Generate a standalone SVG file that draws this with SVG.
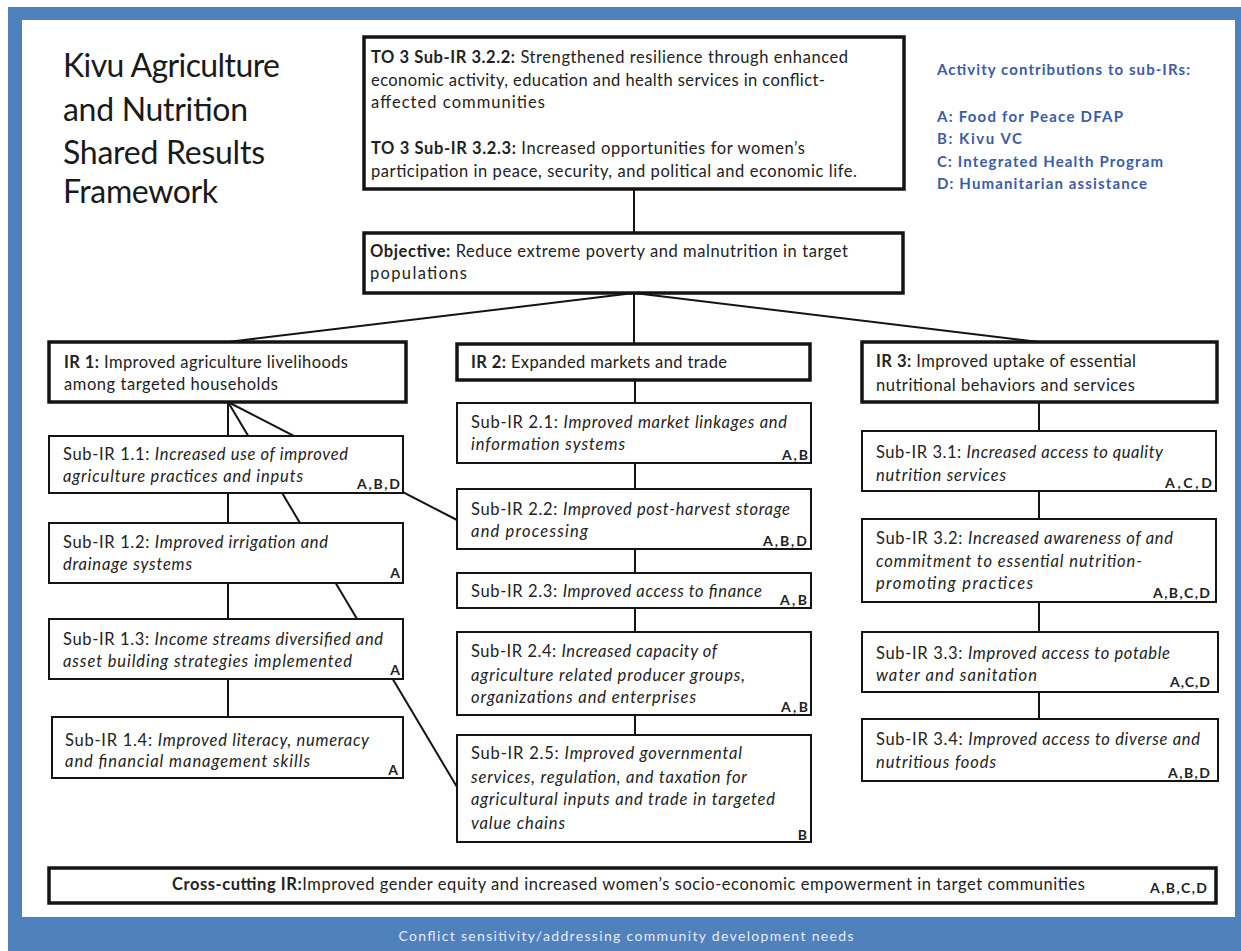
<svg xmlns="http://www.w3.org/2000/svg" width="1241" height="951" viewBox="0 0 1241 951">
<style>
.box{fill:#fff;stroke:#141414;stroke-width:2}
.thick{stroke-width:3.5}
.t{font-family:Lato,'Liberation Sans',sans-serif;font-size:16.5px;fill:#222}
.i{font-style:italic}
.b{font-weight:bold}
.lbl{font-family:Lato,'Liberation Sans',sans-serif;font-size:14px;font-weight:bold;fill:#222;text-anchor:end}
.title{font-family:Lato,'Liberation Sans',sans-serif;font-size:32px;fill:#1a1a1a}
.leg{font-family:Lato,'Liberation Sans',sans-serif;font-size:15px;font-weight:bold;fill:#3a5da8}
.conn line{stroke:#141414;stroke-width:2}
</style>
<rect x="0" y="0" width="1241" height="951" fill="#fff"/>
<g id="frame">
<rect x="8" y="7" width="1233" height="944" fill="#4f81bd"/>
<rect x="22" y="20" width="1213" height="897" fill="#fff"/>
<text x="626" y="941" text-anchor="middle" textLength="455" font-family="Lato,'Liberation Sans',sans-serif" font-size="14" fill="#e6edf7">Conflict sensitivity/addressing community development needs</text>
</g>
<g id="title">
<text class="title" x="63" y="77" textLength="217">Kivu Agriculture</text>
<text class="title" x="63" y="121" textLength="185">and Nutrition</text>
<text class="title" x="63" y="164" textLength="202">Shared Results</text>
<text class="title" x="63" y="203" textLength="155">Framework</text>
</g>
<g id="legend">
<text class="leg" x="937" y="75" textLength="253" fill="#47609a">Activity contributions to sub-IRs:</text>
<text class="leg" x="937" y="122" textLength="186">A: Food for Peace  DFAP</text>
<text class="leg" x="937" y="144" textLength="85">B: Kivu VC</text>
<text class="leg" x="937" y="167" textLength="226">C: Integrated Health Program</text>
<text class="leg" x="937" y="189" textLength="210">D: Humanitarian assistance</text>
</g>
<g id="connectors" class="conn">
<line x1="634" y1="189" x2="634" y2="233"/>
<line x1="634" y1="293" x2="228" y2="342"/>
<line x1="634" y1="293" x2="634" y2="344"/>
<line x1="634" y1="293" x2="1039" y2="342"/>
<line x1="228" y1="402" x2="228" y2="436"/>
<line x1="228" y1="493" x2="228" y2="523"/>
<line x1="228" y1="583" x2="228" y2="619"/>
<line x1="228" y1="679" x2="228" y2="717"/>
<line x1="228" y1="402" x2="457" y2="520"/>
<line x1="228" y1="402" x2="457" y2="787"/>
<line x1="635" y1="380" x2="635" y2="403"/>
<line x1="635" y1="463" x2="635" y2="489"/>
<line x1="635" y1="549" x2="635" y2="573"/>
<line x1="635" y1="608" x2="635" y2="632"/>
<line x1="635" y1="715" x2="635" y2="735"/>
<line x1="1039" y1="402" x2="1039" y2="431"/>
<line x1="1039" y1="491" x2="1039" y2="519"/>
<line x1="1039" y1="602" x2="1039" y2="632"/>
<line x1="1039" y1="692" x2="1039" y2="719"/>
</g>
<g id="to3">
<rect class="box thick" x="364" y="37" width="540" height="152"/>
<text class="t" x="371" y="63" textLength="477"><tspan class="b">TO 3 Sub-IR 3.2.2:</tspan>  Strengthened resilience through enhanced</text>
<text class="t" x="371" y="86" textLength="454">economic activity, education and health services  in conflict-</text>
<text class="t" x="371" y="108" textLength="174">affected communities</text>
<text class="t" x="371" y="154" textLength="434"><tspan class="b">TO 3 Sub-IR 3.2.3:</tspan>  Increased opportunities for women’s</text>
<text class="t" x="371" y="177" textLength="486">participation in peace, security, and political and economic life.</text>
</g>
<g id="objective">
<rect class="box thick" x="364" y="233" width="539" height="60"/>
<text class="t" x="370" y="257" textLength="478"><tspan class="b">Objective:</tspan> Reduce extreme poverty and malnutrition in target</text>
<text class="t" x="370" y="279" textLength="97">populations</text>
</g>
<g id="ir1">
<rect class="box thick" x="49" y="342" width="357" height="60"/>
<text class="t" x="64" y="368" textLength="284"><tspan class="b">IR 1:</tspan> Improved agriculture livelihoods</text>
<text class="t" x="64" y="390" textLength="214">among targeted households</text>
</g>
<g id="sub11">
<rect class="box" x="49" y="436" width="354" height="57"/>
<text class="t" x="63" y="460" textLength="285">Sub-IR 1.1: <tspan class="i">Increased use of improved</tspan></text>
<text class="t i" x="63" y="482" textLength="240">agriculture practices and inputs</text>
<text class="lbl" x="400" y="489" textLength="43">A,B,D</text>
</g>
<g id="sub12">
<rect class="box" x="49" y="523" width="354" height="60"/>
<text class="t" x="63" y="548" textLength="265">Sub-IR 1.2: <tspan class="i">Improved irrigation and</tspan></text>
<text class="t i" x="63" y="570" textLength="129">drainage systems</text>
<text class="lbl" x="400" y="578">A</text>
</g>
<g id="sub13">
<rect class="box" x="49" y="619" width="354" height="60"/>
<text class="t" x="63" y="645" textLength="320">Sub-IR 1.3: <tspan class="i">Income streams diversified and</tspan></text>
<text class="t i" x="63" y="667" textLength="289">asset building strategies implemented</text>
<text class="lbl" x="400" y="675">A</text>
</g>
<g id="sub14">
<rect class="box" x="52" y="717" width="351" height="61"/>
<text class="t" x="65" y="746" textLength="304">Sub-IR 1.4: <tspan class="i">Improved literacy, numeracy</tspan></text>
<text class="t i" x="65" y="767" textLength="245">and financial management skills</text>
<text class="lbl" x="398" y="775">A</text>
</g>
<g id="ir2">
<rect class="box thick" x="457" y="344" width="353" height="36"/>
<text class="t" x="471" y="368" textLength="256"><tspan class="b">IR 2:</tspan> Expanded markets and trade</text>
</g>
<g id="sub21">
<rect class="box" x="457" y="403" width="354" height="60"/>
<text class="t" x="471" y="428" textLength="316">Sub-IR 2.1: <tspan class="i">Improved market linkages and</tspan></text>
<text class="t i" x="471" y="450" textLength="154">information systems</text>
<text class="lbl" x="808" y="460" textLength="26">A,B</text>
</g>
<g id="sub22">
<rect class="box" x="457" y="489" width="354" height="60"/>
<text class="t" x="471" y="515" textLength="319">Sub-IR 2.2: <tspan class="i">Improved post-harvest storage</tspan></text>
<text class="t i" x="471" y="537" textLength="117">and  processing</text>
<text class="lbl" x="807" y="546" textLength="44">A,B,D</text>
</g>
<g id="sub23">
<rect class="box" x="457" y="573" width="354" height="35"/>
<text class="t" x="471" y="597" textLength="291">Sub-IR 2.3: <tspan class="i">Improved access to finance</tspan></text>
<text class="lbl" x="807" y="605" textLength="27">A,B</text>
</g>
<g id="sub24">
<rect class="box" x="457" y="632" width="354" height="83"/>
<text class="t" x="471" y="657" textLength="246">Sub-IR 2.4: <tspan class="i">Increased capacity of</tspan></text>
<text class="t i" x="471" y="681" textLength="274">agriculture related producer groups,</text>
<text class="t i" x="471" y="703" textLength="225">organizations and enterprises</text>
<text class="lbl" x="808" y="712" textLength="27">A,B</text>
</g>
<g id="sub25">
<rect class="box" x="457" y="735" width="354" height="107"/>
<text class="t" x="471" y="759" textLength="271">Sub-IR 2.5: <tspan class="i">Improved governmental</tspan></text>
<text class="t i" x="471" y="783" textLength="276">services, regulation, and taxation for</text>
<text class="t i" x="471" y="805" textLength="304">agricultural inputs and trade in targeted</text>
<text class="t i" x="471" y="829" textLength="94">value chains</text>
<text class="lbl" x="807" y="840">B</text>
</g>
<g id="ir3">
<rect class="box thick" x="862" y="342" width="355" height="60"/>
<text class="t" x="876" y="367" textLength="260"><tspan class="b">IR 3:</tspan> Improved uptake of essential</text>
<text class="t" x="876" y="391" textLength="259">nutritional  behaviors and services</text>
</g>
<g id="sub31">
<rect class="box" x="862" y="431" width="354" height="60"/>
<text class="t" x="876" y="458" textLength="287">Sub-IR 3.1: <tspan class="i">Increased access to quality</tspan></text>
<text class="t i" x="876" y="481" textLength="130">nutrition services</text>
<text class="lbl" x="1212" y="488" textLength="47">A,C,D</text>
</g>
<g id="sub32">
<rect class="box" x="862" y="519" width="354" height="83"/>
<text class="t" x="876" y="544" textLength="297">Sub-IR 3.2: <tspan class="i">Increased awareness of and</tspan></text>
<text class="t i" x="876" y="567" textLength="266">commitment to essential nutrition-</text>
<text class="t i" x="876" y="589" textLength="157">promoting practices</text>
<text class="lbl" x="1210" y="598" textLength="57">A,B,C,D</text>
</g>
<g id="sub33">
<rect class="box" x="862" y="632" width="356" height="60"/>
<text class="t" x="876" y="659" textLength="294">Sub-IR 3.3: <tspan class="i">Improved access to potable</tspan></text>
<text class="t i" x="876" y="681" textLength="161">water and sanitation</text>
<text class="lbl" x="1210" y="687" textLength="40">A,C,D</text>
</g>
<g id="sub34">
<rect class="box" x="862" y="719" width="356" height="62"/>
<text class="t" x="876" y="745" textLength="324">Sub-IR 3.4: <tspan class="i">Improved access to diverse and</tspan></text>
<text class="t i" x="876" y="768" textLength="120">nutritious foods</text>
<text class="lbl" x="1210" y="778" textLength="42">A,B,D</text>
</g>
<g id="crosscutting">
<rect class="box thick" x="49" y="868" width="1167" height="35"/>
<text class="t" x="172" y="890" font-size="15" textLength="913"><tspan class="b">Cross-cutting IR:</tspan>Improved gender equity and increased women’s socio-economic empowerment in target communities</text>
<text class="lbl" x="1207" y="893" textLength="57">A,B,C,D</text>
</g>
</svg>
